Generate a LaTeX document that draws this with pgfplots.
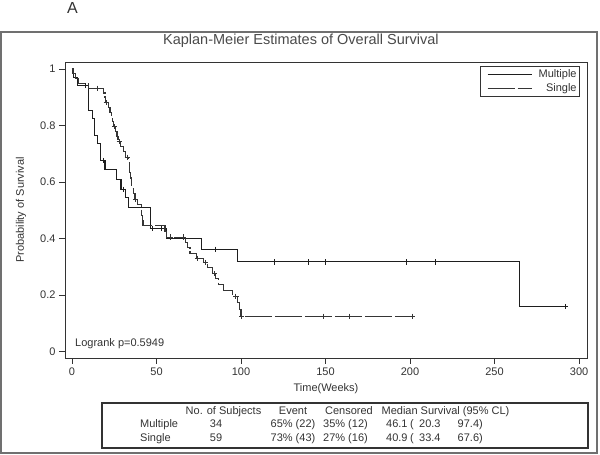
\documentclass[border=0pt]{standalone}
\usepackage{fontspec}
\setmainfont{Liberation Sans}
\usepackage{pgfplots}
\pgfplotsset{compat=1.18}
\definecolor{txt}{HTML}{333333}
\definecolor{ttl}{HTML}{4A4A4A}
\definecolor{lnA}{HTML}{1E1E1E}
\definecolor{lnB}{HTML}{353535}
\definecolor{frm}{HTML}{707070}
\newcommand{\sz}{\fontsize{11}{13}\selectfont}
\begin{document}
\begin{tikzpicture}[x=1pt,y=1pt]
\path[use as bounding box] (0,0) rectangle (600,455);
\draw[frm, line width=2pt] (1,2) rectangle (597,423);
\node[font=\fontsize{16}{18}\selectfont, text=txt, inner sep=0pt] at (72.5,446.5) {A};
\begin{axis}[
  at={(65pt,97pt)}, anchor=south west,
  scale only axis, width=522pt, height=296pt,
  xmin=-4.14, xmax=304.7, ymin=-0.023, ymax=1.0248,
  xtick={0,50,100,150,200,250,300},
  ytick={0,0.2,0.4,0.6,0.8,1},
  tick align=outside, major tick length=6pt,
  xtick pos=bottom, ytick pos=left,
  axis line style={txt, line width=0.8pt},
  tick style={txt, line width=0.8pt},
  ticklabel style={font=\sz, text=txt},
  /pgf/number format/assume math mode=true,
  title={Kaplan-Meier Estimates of Overall Survival},
  title style={at={(axis description cs:0.452,1.0507)}, anchor=center, font=\fontsize{14.5}{17}\selectfont, text=ttl},
  xlabel={Time(Weeks)},
  xlabel style={at={(axis description cs:0.5,-0.105)}, anchor=center, font=\sz, text=txt},
  ylabel={Probability of Survival},
  ylabel style={at={(axis description cs:-0.0843,0.5)}, anchor=center, font=\sz, text=txt},
  legend cell align=right,
  legend image code/.code={\path (0pt,0pt); \draw[#1] (5pt,0pt) -- (49pt,0pt);},
  legend style={at={(axis description cs:0.9866,0.9865)}, anchor=north east,
    draw=txt, line width=0.8pt, font=\sz, text=txt,
    inner xsep=1.5pt, inner ysep=1.8pt, row sep=1.7pt, column sep=5pt,
    nodes={inner sep=1.5pt}},
]
\addplot[const plot, color=lnA, line width=1.1pt] coordinates {
(0,1) (1,0.971) (3.5,0.941) (10,0.853) (12,0.824) (13.2,0.765) (15.2,0.735)
(17,0.676) (19.5,0.643) (26.4,0.608) (29,0.574) (31.5,0.544) (33.3,0.511)
(46.2,0.436) (56,0.40) (76.7,0.362) (97.8,0.317) (265,0.158) (291.7,0.158)};
\addlegendentry{Multiple}
\addplot[const plot, color=lnB, line width=1.1pt, dash pattern=on 27pt off 3pt] coordinates {
(0,1) (0.6,0.983) (2,0.966) (4,0.949) (10,0.932) (18.5,0.915) (19.5,0.898)
(20,0.881) (21.5,0.864) (22.5,0.847) (23.5,0.830) (24,0.813) (24.8,0.796)
(26,0.778) (26.6,0.760) (27.2,0.742) (28.5,0.725) (30.3,0.707) (31.8,0.688)
(33.5,0.670) (33.8,0.652) (34.2,0.633) (34.6,0.614) (35,0.596) (35.4,0.577)
(36.4,0.558) (37.3,0.538) (38.7,0.519) (40.9,0.499) (41.2,0.480) (41.5,0.462)
(42,0.445) (55,0.425) (56,0.405) (67,0.385) (68.2,0.367) (69.8,0.348)
(73.8,0.330) (77.7,0.315) (80,0.297) (83,0.276) (85,0.257) (86.6,0.238)
(89.5,0.217) (95,0.196) (98,0.175) (99,0.150) (100,0.125) (201.2,0.125)};
\addlegendentry{Single}
\addplot[only marks, mark=+, mark size=2.6pt, color=lnA, line width=0.9pt, forget plot] coordinates {
(8,0.941) (18.6,0.676) (30.5,0.574) (47.5,0.436) (53,0.436) (85,0.362)
(119.5,0.317) (140,0.317) (150,0.317) (197.6,0.317) (214.8,0.317) (291.7,0.158)};
\addplot[only marks, mark=+, mark size=2.6pt, color=lnB, line width=0.9pt, forget plot] coordinates {
(15,0.932) (20.3,0.881) (25.2,0.796) (28,0.742) (32.7,0.688) (37.6,0.538)
(58.5,0.405) (66,0.405) (74.2,0.330) (79,0.315) (84.5,0.276) (97,0.196)
(100.4,0.125) (148.7,0.125) (163.9,0.125) (201.2,0.125)};
\node[anchor=base west, inner sep=0pt, font=\sz, text=txt] at (axis description cs:0.0192,0.0372) {Logrank p=0.5949};
\end{axis}
\draw[txt, line width=1.2pt] (102,7) rectangle (588,52);
\begin{scope}[every node/.style={inner sep=0pt, font=\sz, text=txt}]
\node[anchor=base] at (223.5,40.5) {No. of Subjects};
\node[anchor=base] at (293,40.5) {Event};
\node[anchor=base] at (349,40.5) {Censored};
\node[anchor=base] at (445.5,40.5) {Median Survival (95\% CL)};
\node[anchor=base west] at (140,27) {Multiple};
\node[anchor=base] at (216,27) {34};
\node[anchor=base] at (293,27) {65\% (22)};
\node[anchor=base] at (345.5,27) {35\% (12)};
\node[anchor=base west] at (386,27) {46.1};
\node[anchor=base west] at (410,27) {(};
\node[anchor=base west] at (419,27) {20.3};
\node[anchor=base east] at (483,27) {97.4)};
\node[anchor=base west] at (140,13.5) {Single};
\node[anchor=base] at (216,13.5) {59};
\node[anchor=base] at (293,13.5) {73\% (43)};
\node[anchor=base] at (345.5,13.5) {27\% (16)};
\node[anchor=base west] at (386,13.5) {40.9};
\node[anchor=base west] at (410,13.5) {(};
\node[anchor=base west] at (419,13.5) {33.4};
\node[anchor=base east] at (483,13.5) {67.6)};
\end{scope}
\end{tikzpicture}
\end{document}
